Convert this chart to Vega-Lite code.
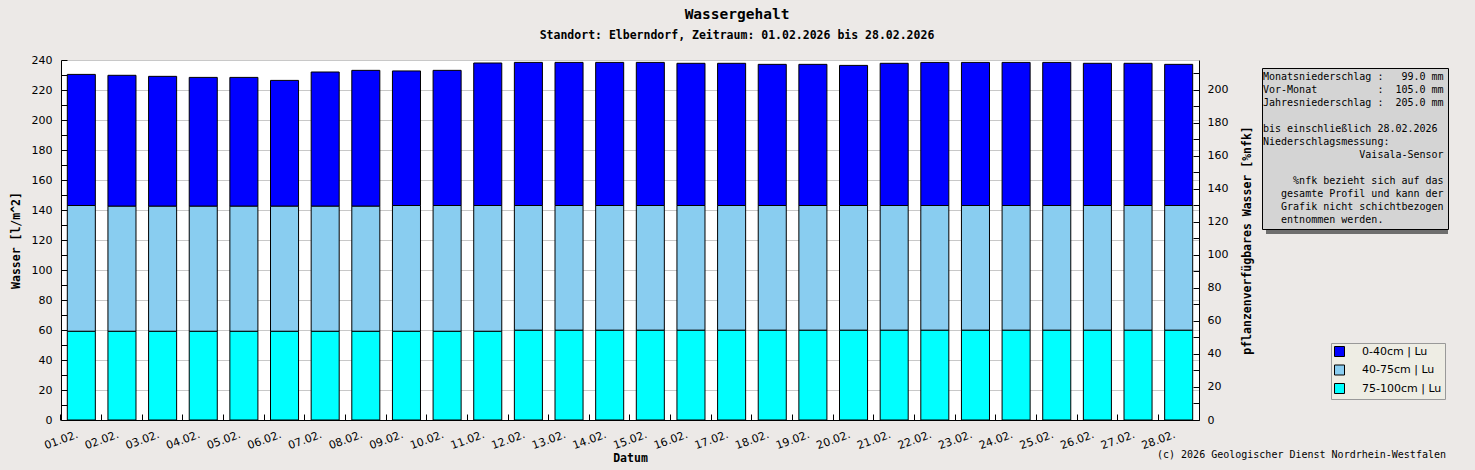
{
  "$schema": "https://vega.github.io/schema/vega-lite/v6.json",
  "description": "Wassergehalt Elberndorf, Februar 2026, gestapelte Balken je Schicht",
  "width": 1138,
  "height": 360,
  "autosize": {"type": "none"},
  "padding": {"left": 61, "top": 60, "right": 276, "bottom": 50},
  "background": "#ece9e7",
  "config": {
    "view": {"fill": "#ffffff", "stroke": null},
    "font": "DejaVu Sans",
    "axis": {"domainColor": "#000000", "tickColor": "#000000", "labelColor": "#000000", "titleColor": "#000000"}
  },
  "title": {
    "text": "Wassergehalt",
    "subtitle": "Standort: Elberndorf, Zeitraum: 01.02.2026 bis 28.02.2026",
    "anchor": "middle",
    "frame": "group",
    "dx": 107,
    "font": "DejaVu Sans Mono",
    "fontSize": 14.5,
    "fontWeight": "bold",
    "color": "#000000",
    "subtitleFont": "DejaVu Sans Mono",
    "subtitleFontSize": 11.5,
    "subtitleFontWeight": "bold",
    "subtitleColor": "#000000",
    "subtitlePadding": 7,
    "offset": 12
  },
  "layer": [
    {
      "data": {"values": [{"schatten_info": "\u00a0"}]},
      "mark": {"type": "point", "opacity": 0, "strokeOpacity": 0, "fillOpacity": 0},
      "encoding": {
        "opacity": {
          "field": "schatten_info",
          "type": "ordinal",
          "scale": {"range": [0]},
          "legend": {
            "orient": "none", "legendX": 1205, "legendY": 12, "title": null,
            "padding": 0, "fillColor": "#6e6e6e", "strokeColor": null,
            "symbolType": "square", "symbolSize": 26244, "symbolStrokeWidth": 0, "symbolOpacity": 0,
            "labelOffset": 20, "labelFontSize": 10
          }
        }
      }
    },
    {
      "data": {"values": [{"schatten_legende": "\u00a0"}]},
      "mark": {"type": "point", "opacity": 0, "strokeOpacity": 0},
      "encoding": {
        "fillOpacity": {
          "field": "schatten_legende",
          "type": "ordinal",
          "scale": {"range": [0]},
          "legend": {
            "orient": "none", "legendX": 1274, "legendY": 287, "title": null,
            "padding": 0, "fillColor": "#6e6e6e", "strokeColor": null,
            "symbolType": "square", "symbolSize": 3136, "symbolStrokeWidth": 0, "symbolOpacity": 0,
            "labelOffset": 55, "labelFontSize": 10
          }
        }
      }
    },
    {
      "data": {
        "values": [
          {"Datum": "01.02.", "0-40cm | Lu": 87.4, "40-75cm | Lu": 83.9, "75-100cm | Lu": 59.1},
          {"Datum": "02.02.", "0-40cm | Lu": 87.3, "40-75cm | Lu": 83.4, "75-100cm | Lu": 59.1},
          {"Datum": "03.02.", "0-40cm | Lu": 86.6, "40-75cm | Lu": 83.4, "75-100cm | Lu": 59.1},
          {"Datum": "04.02.", "0-40cm | Lu": 85.9, "40-75cm | Lu": 83.4, "75-100cm | Lu": 59.1},
          {"Datum": "05.02.", "0-40cm | Lu": 85.9, "40-75cm | Lu": 83.4, "75-100cm | Lu": 59.1},
          {"Datum": "06.02.", "0-40cm | Lu": 83.9, "40-75cm | Lu": 83.4, "75-100cm | Lu": 59.1},
          {"Datum": "07.02.", "0-40cm | Lu": 89.5, "40-75cm | Lu": 83.4, "75-100cm | Lu": 59.1},
          {"Datum": "08.02.", "0-40cm | Lu": 90.6, "40-75cm | Lu": 83.4, "75-100cm | Lu": 59.1},
          {"Datum": "09.02.", "0-40cm | Lu": 89.7, "40-75cm | Lu": 83.9, "75-100cm | Lu": 59.1},
          {"Datum": "10.02.", "0-40cm | Lu": 90.1, "40-75cm | Lu": 83.9, "75-100cm | Lu": 59.1},
          {"Datum": "11.02.", "0-40cm | Lu": 95.0, "40-75cm | Lu": 83.9, "75-100cm | Lu": 59.1},
          {"Datum": "12.02.", "0-40cm | Lu": 95.4, "40-75cm | Lu": 83.2, "75-100cm | Lu": 59.8},
          {"Datum": "13.02.", "0-40cm | Lu": 95.4, "40-75cm | Lu": 83.2, "75-100cm | Lu": 59.8},
          {"Datum": "14.02.", "0-40cm | Lu": 95.4, "40-75cm | Lu": 83.2, "75-100cm | Lu": 59.8},
          {"Datum": "15.02.", "0-40cm | Lu": 95.4, "40-75cm | Lu": 83.2, "75-100cm | Lu": 59.8},
          {"Datum": "16.02.", "0-40cm | Lu": 94.8, "40-75cm | Lu": 83.2, "75-100cm | Lu": 59.8},
          {"Datum": "17.02.", "0-40cm | Lu": 94.8, "40-75cm | Lu": 83.2, "75-100cm | Lu": 59.8},
          {"Datum": "18.02.", "0-40cm | Lu": 94.1, "40-75cm | Lu": 83.2, "75-100cm | Lu": 59.8},
          {"Datum": "19.02.", "0-40cm | Lu": 94.1, "40-75cm | Lu": 83.2, "75-100cm | Lu": 59.8},
          {"Datum": "20.02.", "0-40cm | Lu": 93.4, "40-75cm | Lu": 83.2, "75-100cm | Lu": 59.8},
          {"Datum": "21.02.", "0-40cm | Lu": 94.8, "40-75cm | Lu": 83.2, "75-100cm | Lu": 59.8},
          {"Datum": "22.02.", "0-40cm | Lu": 95.4, "40-75cm | Lu": 83.2, "75-100cm | Lu": 59.8},
          {"Datum": "23.02.", "0-40cm | Lu": 95.4, "40-75cm | Lu": 83.2, "75-100cm | Lu": 59.8},
          {"Datum": "24.02.", "0-40cm | Lu": 95.4, "40-75cm | Lu": 83.2, "75-100cm | Lu": 59.8},
          {"Datum": "25.02.", "0-40cm | Lu": 95.4, "40-75cm | Lu": 83.2, "75-100cm | Lu": 59.8},
          {"Datum": "26.02.", "0-40cm | Lu": 94.8, "40-75cm | Lu": 83.2, "75-100cm | Lu": 59.8},
          {"Datum": "27.02.", "0-40cm | Lu": 94.8, "40-75cm | Lu": 83.2, "75-100cm | Lu": 59.8},
          {"Datum": "28.02.", "0-40cm | Lu": 94.1, "40-75cm | Lu": 83.2, "75-100cm | Lu": 59.8}
        ]
      },
      "transform": [
        {"fold": ["0-40cm | Lu", "40-75cm | Lu", "75-100cm | Lu"], "as": ["Schicht", "Wasser"]}
      ],
      "mark": {"type": "bar", "stroke": "#000000", "strokeWidth": 1},
      "encoding": {
        "x": {
          "field": "Datum",
          "type": "nominal",
          "sort": null,
          "scale": {"paddingInner": 0.31, "paddingOuter": 0.155},
          "axis": {
            "title": "Datum",
            "titleFont": "DejaVu Sans Mono",
            "titleFontWeight": "bold",
            "titleFontSize": 11.5,
            "titlePadding": 2,
            "labelAngle": -20,
            "labelAlign": "center",
            "labelBaseline": "middle",
            "labelFontSize": 11,
            "labelPadding": 26,
            "labelOffset": -20,
            "tickSize": -6,
            "bandPosition": -0.225,
            "grid": false
          }
        },
        "y": {
          "field": "Wasser",
          "type": "quantitative",
          "stack": "zero",
          "scale": {"domain": [0, 240], "nice": false},
          "axis": {
            "orient": "left",
            "title": "Wasser [l/m^2]",
            "titleFont": "DejaVu Sans Mono",
            "titleFontWeight": "bold",
            "titleFontSize": 11.5,
            "titlePadding": 10,
            "values": [0, 10, 20, 30, 40, 50, 60, 70, 80, 90, 100, 110, 120, 130, 140, 150, 160, 170, 180, 190, 200, 210, 220, 230, 240],
            "labelExpr": "datum.value % 20 === 0 ? datum.label : ''",
            "labelFontSize": 11,
            "labelPadding": 15,
            "tickSize": -6,
            "grid": true,
            "gridColor": "#c8c8c8",
            "gridOpacity": {"condition": {"test": "datum.value % 20 === 0", "value": 1}, "value": 0}
          }
        },
        "color": {
          "field": "Schicht",
          "type": "nominal",
          "scale": {
            "domain": ["0-40cm | Lu", "40-75cm | Lu", "75-100cm | Lu"],
            "range": ["#0000ff", "#89cdf0", "#00ffff"]
          },
          "legend": {
            "orient": "none",
            "legendX": 1270,
            "legendY": 283,
            "direction": "vertical",
            "title": null,
            "fillColor": "#eeede4",
            "strokeColor": "#999999",
            "padding": 3,
            "rowPadding": 3.5,
            "symbolType": "square",
            "symbolSize": 100,
            "symbolStrokeColor": "#000000",
            "symbolStrokeWidth": 1,
            "symbolOpacity": 1,
            "labelFont": "DejaVu Sans",
            "labelFontSize": 11,
            "labelOffset": 17,
            "labelColor": "#000000"
          }
        }
      }
    },
    {
      "data": {"values": [{"nfk": 0}]},
      "mark": {"type": "rule", "strokeOpacity": 0},
      "encoding": {
        "y": {
          "field": "nfk",
          "type": "quantitative",
          "scale": {"domain": [0, 218], "nice": false},
          "axis": {
            "orient": "right",
            "title": "pflanzenverfügbares Wasser [%nfk]",
            "titleFont": "DejaVu Sans Mono",
            "titleFontWeight": "bold",
            "titleFontSize": 11.5,
            "titleAngle": 270,
            "titleBaseline": "top",
            "titlePadding": 14,
            "values": [0, 10, 20, 30, 40, 50, 60, 70, 80, 90, 100, 110, 120, 130, 140, 150, 160, 170, 180, 190, 200, 210],
            "labelExpr": "datum.value % 20 === 0 ? datum.label : ''",
            "labelFontSize": 11,
            "labelPadding": 14,
            "tickSize": -6,
            "grid": false
          }
        }
      }
    },
    {
      "data": {
        "values": [
          {"zeile": "Monatsniederschlag :\u00a0\u00a0\u00a099.0 mm"},
          {"zeile": "Vor-Monat\u00a0\u00a0\u00a0\u00a0\u00a0\u00a0\u00a0\u00a0\u00a0\u00a0:\u00a0\u00a0105.0 mm"},
          {"zeile": "Jahresniederschlag :\u00a0\u00a0205.0 mm"},
          {"zeile": "\u200b\u00a0"},
          {"zeile": "bis einschließlich 28.02.2026"},
          {"zeile": "Niederschlagsmessung:"},
          {"zeile": "\u200b\u00a0\u00a0\u00a0\u00a0\u00a0\u00a0\u00a0\u00a0\u00a0\u00a0\u00a0\u00a0\u00a0\u00a0\u00a0\u00a0Vaisala-Sensor"},
          {"zeile": "\u200b\u00a0\u00a0"},
          {"zeile": "\u200b\u00a0\u00a0\u00a0\u00a0\u00a0%nfk bezieht sich auf das"},
          {"zeile": "\u200b\u00a0\u00a0\u00a0gesamte Profil und kann der"},
          {"zeile": "\u200b\u00a0\u00a0\u00a0Grafik nicht schichtbezogen"},
          {"zeile": "\u200b\u00a0\u00a0\u00a0entnommen werden."}
        ]
      },
      "mark": {"type": "point", "opacity": 0, "strokeOpacity": 0, "fillOpacity": 0},
      "encoding": {
        "shape": {
          "field": "zeile",
          "type": "nominal",
          "scale": {
            "domain": [
              "Monatsniederschlag :\u00a0\u00a0\u00a099.0 mm",
              "Vor-Monat\u00a0\u00a0\u00a0\u00a0\u00a0\u00a0\u00a0\u00a0\u00a0\u00a0:\u00a0\u00a0105.0 mm",
              "Jahresniederschlag :\u00a0\u00a0205.0 mm",
              "\u200b\u00a0",
              "bis einschließlich 28.02.2026",
              "Niederschlagsmessung:",
              "\u200b\u00a0\u00a0\u00a0\u00a0\u00a0\u00a0\u00a0\u00a0\u00a0\u00a0\u00a0\u00a0\u00a0\u00a0\u00a0\u00a0Vaisala-Sensor",
              "\u200b\u00a0\u00a0",
              "\u200b\u00a0\u00a0\u00a0\u00a0\u00a0%nfk bezieht sich auf das",
              "\u200b\u00a0\u00a0\u00a0gesamte Profil und kann der",
              "\u200b\u00a0\u00a0\u00a0Grafik nicht schichtbezogen",
              "\u200b\u00a0\u00a0\u00a0entnommen werden."
            ]
          },
          "legend": {
            "orient": "none",
            "legendX": 1201,
            "legendY": 8,
            "direction": "vertical",
            "title": null,
            "fillColor": "#d4d4d4",
            "strokeColor": "#000000",
            "padding": 4,
            "rowPadding": 3,
            "symbolSize": 0,
            "symbolOpacity": 0,
            "symbolStrokeWidth": 0,
            "labelOffset": -13,
            "labelFont": "DejaVu Sans Mono",
            "labelFontSize": 10,
            "labelLimit": 400,
            "labelColor": "#000000"
          }
        }
      }
    },
    {
      "data": {"values": [{"hinweis": "(c) 2026 Geologischer Dienst Nordrhein-Westfalen"}]},
      "mark": {"type": "point", "opacity": 0, "strokeOpacity": 0, "fillOpacity": 0},
      "encoding": {
        "strokeDash": {
          "field": "hinweis",
          "type": "nominal",
          "legend": {
            "orient": "none",
            "legendX": 1086,
            "legendY": 390,
            "title": null,
            "padding": 0,
            "symbolSize": 0,
            "symbolOpacity": 0,
            "symbolStrokeWidth": 0,
            "labelOffset": 0,
            "labelFont": "DejaVu Sans Mono",
            "labelFontSize": 10,
            "labelLimit": 400,
            "labelColor": "#000000"
          }
        }
      }
    }
  ],
  "resolve": {"scale": {"y": "independent"}}
}
